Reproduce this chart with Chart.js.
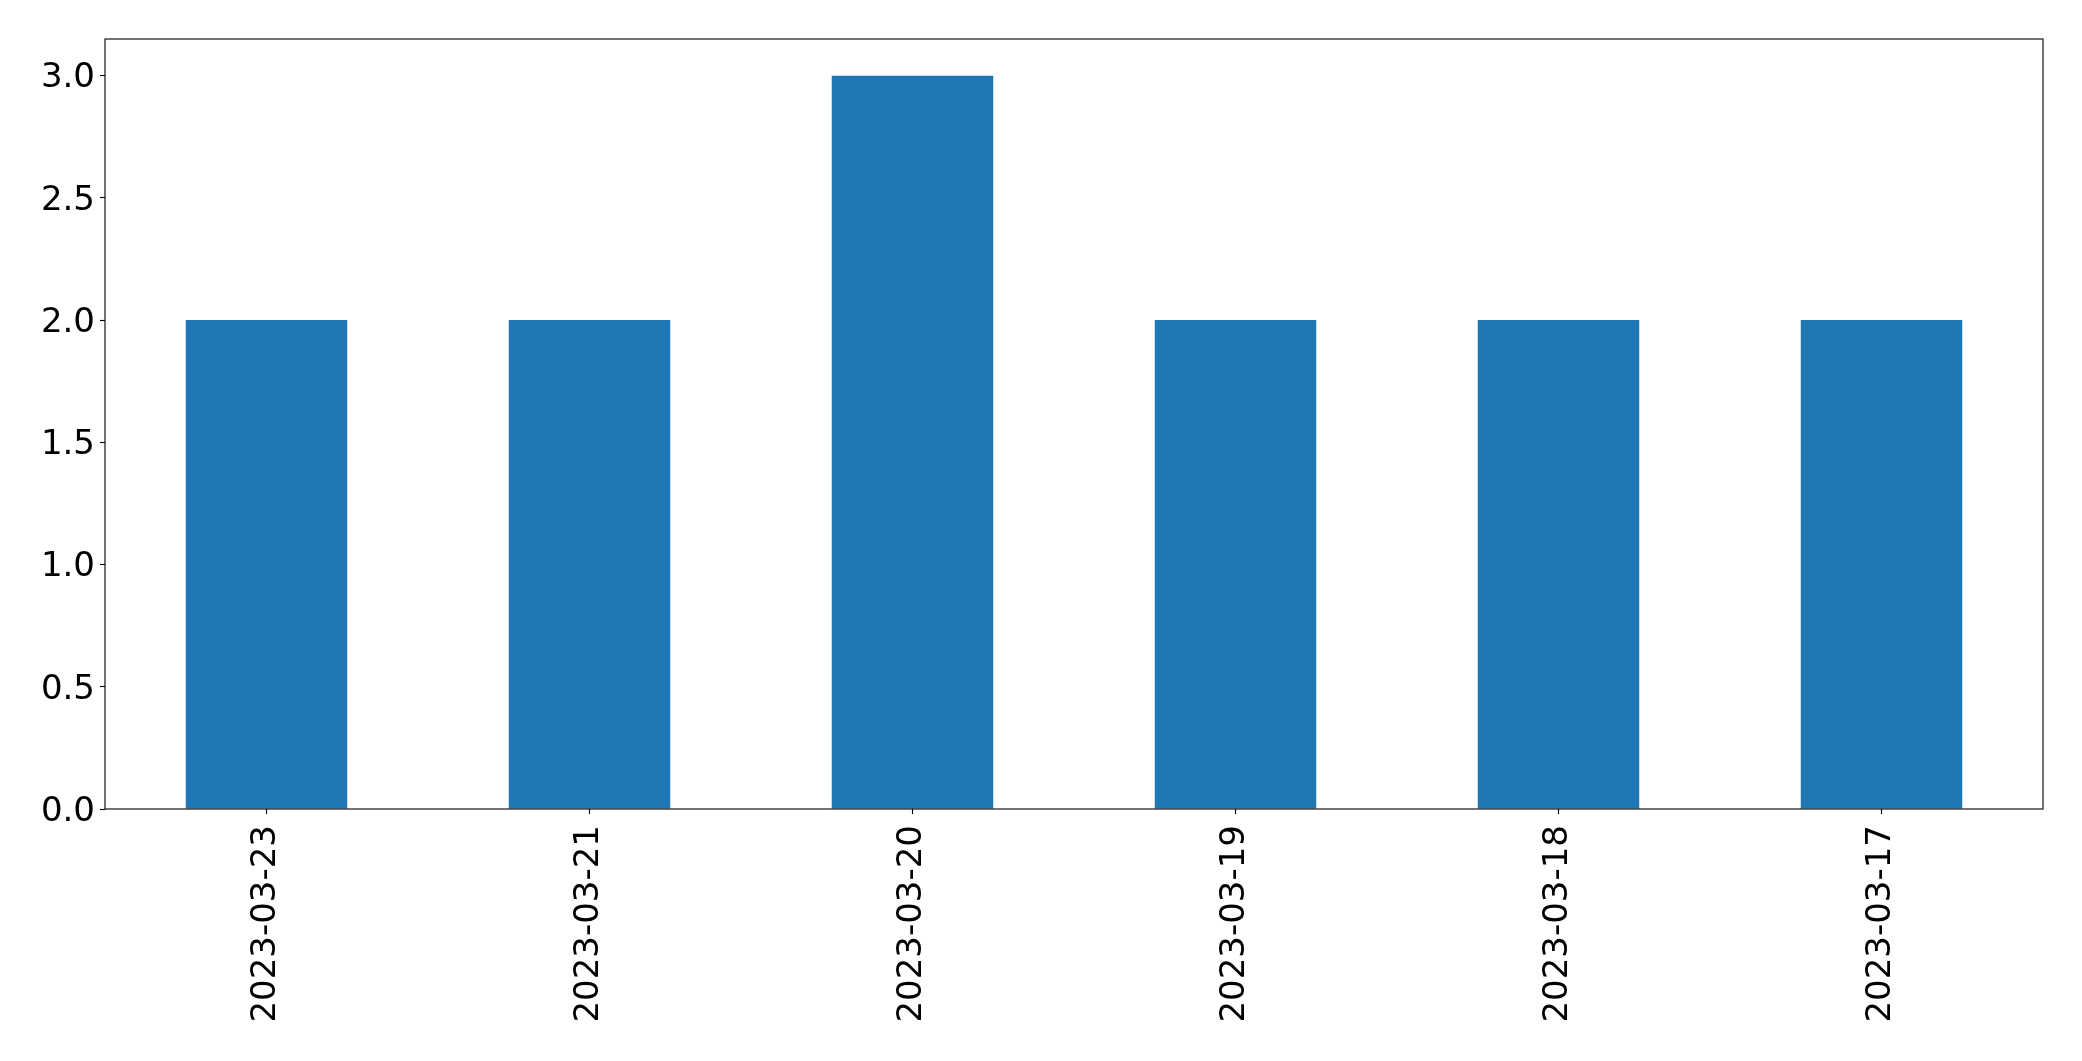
<!DOCTYPE html>
<html>
<head>
<meta charset="utf-8">
<script src="https://cdn.jsdelivr.net/npm/chart.js@4"></script>
<style>
  body { margin: 0; background: #fff; }
  #wrap { width: 2082px; height: 1061px; }
</style>
</head>
<body>
<div id="wrap"><canvas id="canvas" width="2082" height="1061"></canvas></div>
<script>
// categories and values
var dates = ['2023-03-23', '2023-03-21', '2023-03-20', '2023-03-19', '2023-03-18', '2023-03-17'];
var counts = [2, 2, 3, 2, 2, 2];
var yTicks = [0, 0.5, 1, 1.5, 2, 2.5, 3];

var tickFont = { family: 'DejaVu Sans', size: 34 };

// frame around the plot, like matplotlib's spines
var frame = {
    id: 'frame',
    afterDraw: function(chart) {
        var a = chart.chartArea;
        var ctx = chart.ctx;
        ctx.save();
        ctx.strokeStyle = '#000';
        ctx.lineWidth = 1.1;
        ctx.strokeRect(a.left, a.top, a.right - a.left, a.bottom - a.top);
        ctx.restore();
    }
};

var config = {
    type: 'bar',
    data: {
        labels: dates,
        datasets: [{
            data: counts,
            backgroundColor: '#1f77b4',
            borderWidth: 0,
            categoryPercentage: 1.0,
            barPercentage: 0.5
        }]
    },
    options: {
        responsive: false,
        animation: false,
        layout: { padding: { top: 39, right: 39, left: 0, bottom: 0 } },
        plugins: {
            legend: { display: false },
            tooltip: { enabled: false }
        },
        scales: {
            x: {
                offset: true,
                grid: { offset: false, drawOnChartArea: false, drawTicks: true, tickLength: 5, tickColor: '#000', tickWidth: 1.1 },
                border: { display: false },
                ticks: { font: tickFont, color: '#000', minRotation: 90, maxRotation: 90, padding: 11, autoSkip: false },
                afterFit: function(scale) { scale.height = 252; }
            },
            y: {
                min: 0,
                max: 3.15,
                grid: { drawOnChartArea: false, drawTicks: true, tickLength: 5, tickColor: '#000', tickWidth: 1.1 },
                border: { display: false },
                afterBuildTicks: function(scale) {
                    scale.ticks = yTicks.map(function(v) { return { value: v }; });
                },
                ticks: {
                    font: tickFont,
                    color: '#000',
                    padding: 5,
                    labelOffset: 3,
                    callback: function(v) { return Number(v).toFixed(1); }
                },
                afterFit: function(scale) { scale.width = 105; }
            }
        }
    },
    plugins: [frame]
};

window.addEventListener('load', function() {
    var ctx = document.getElementById('canvas').getContext('2d');
    window.BarChart = new Chart(ctx, config);
});
</script>
</body>
</html>
